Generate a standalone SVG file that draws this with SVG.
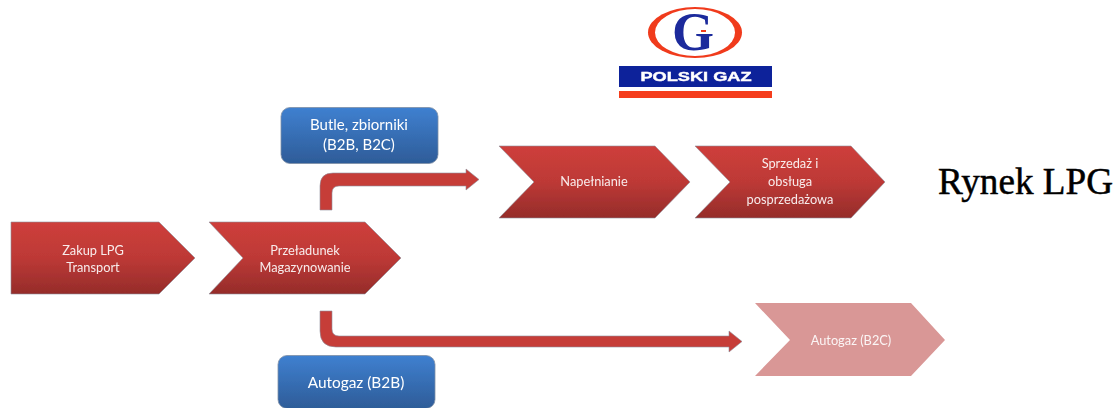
<svg xmlns="http://www.w3.org/2000/svg" width="1119" height="408" viewBox="0 0 1119 408">
<style>
.lbl{font-family:"Lato","Open Sans","Liberation Sans",sans-serif;fill:#fff;fill-opacity:.9;text-anchor:middle;font-size:12.800px}
.blbl{font-family:"Lato","Open Sans","Liberation Sans",sans-serif;fill:#fff;text-anchor:middle;font-size:15px}
.red{fill:url(#redG);stroke:#8e8e9a;stroke-width:.6;filter:url(#soft)}
.blue{fill:url(#blueG);stroke:#7f8fa6;stroke-width:.8;filter:url(#soft)}
.soft{filter:url(#soft)}
</style>
<defs>
<linearGradient id="redG" x1="0" y1="0" x2="0" y2="1"><stop offset="0" stop-color="#ce3f3b"/><stop offset=".5" stop-color="#bd3936"/><stop offset="1" stop-color="#952c2a"/></linearGradient>
<linearGradient id="blueG" x1="0" y1="0" x2="0" y2="1"><stop offset="0" stop-color="#3f80d0"/><stop offset="1" stop-color="#2e5c98"/></linearGradient>
<filter id="soft" x="-5%" y="-5%" width="110%" height="110%"><feGaussianBlur stdDeviation=".5"/></filter>
</defs>
<g id="connectors">
<path id="arrow-up" class="red" style="fill:#c63c39" d="M320 210V186Q320 173 333 173H466V169L479 179.500L466 190V186H339Q332 186 332 193V210Z"/>
<path id="arrow-down" class="red" style="fill:#c63c39" d="M320 311H332V329Q332 336 339 336H729V331L742 341.500L729 352V347H336Q320 347 320 331Z"/>
</g>
<g id="node-zakup"><path class="red" d="M11 222H159L195 258L159 294H11Z"/><text class="lbl soft" x="93" y="255">Zakup LPG</text><text class="lbl soft" x="93" y="272">Transport</text></g>
<g id="node-przeladunek"><path class="red" d="M209 222H365L401 258L365 294H209L243 258Z"/><text class="lbl soft" x="305" y="255">Przeładunek</text><text class="lbl soft" x="305" y="272">Magazynowanie</text></g>
<g id="node-napelnianie"><path class="red" d="M499 146H655L690 182L655 218H499L534 182Z"/><text class="lbl soft" x="594" y="186">Napełnianie</text></g>
<g id="node-sprzedaz"><path class="red" d="M695 146H851L885 182L851 218H695L730 182Z"/><text class="lbl soft" x="790" y="168">Sprzedaż i</text><text class="lbl soft" x="790" y="186">obsługa</text><text class="lbl soft" x="790" y="204">posprzedażowa</text></g>
<g id="node-autogaz-b2c"><path class="soft" fill="#d99796" d="M755 303H911L945 340L911 376H755L790 340Z"/><text class="lbl soft" x="851" y="345">Autogaz (B2C)</text></g>
<g id="node-butle"><rect class="blue" x="281" y="107.500" width="157" height="56" rx="9"/><text class="blbl soft" x="359" y="130">Butle, zbiorniki</text><text class="blbl soft" x="359" y="150">(B2B, B2C)</text></g>
<g id="node-autogaz-b2b"><rect class="blue" x="278" y="355.500" width="157" height="53" rx="9"/><text class="blbl soft" x="356" y="388" style="font-size:15.400px">Autogaz (B2B)</text></g>
<g id="logo" class="soft">
<ellipse cx="695" cy="32.500" rx="47" ry="25.500" fill="#f03a1c"/>
<ellipse cx="695" cy="32.500" rx="40" ry="23.500" fill="#fff"/>
<text x="693" y="50" font-family="'Liberation Serif',serif" font-weight="700" font-size="54" fill="#1a2a9c" text-anchor="middle">G</text>
<rect x="701" y="30" width="5" height="2" fill="#f03a1c"/>
<rect x="619" y="66" width="153" height="21" fill="#10209a"/>
<text x="696" y="81" font-family="'Liberation Sans',sans-serif" font-weight="700" font-size="12.500" fill="#fff" stroke="#fff" stroke-width=".4" textLength="111" lengthAdjust="spacingAndGlyphs" text-anchor="middle">POLSKI GAZ</text>
<rect x="619" y="91" width="153" height="7" fill="#f53c1c"/>
</g>
<text id="title" x="938" y="194" font-family="'Liberation Serif',serif" font-size="37" fill="#000" stroke="#000" stroke-width=".5" textLength="175" lengthAdjust="spacingAndGlyphs">Rynek LPG</text>
</svg>
